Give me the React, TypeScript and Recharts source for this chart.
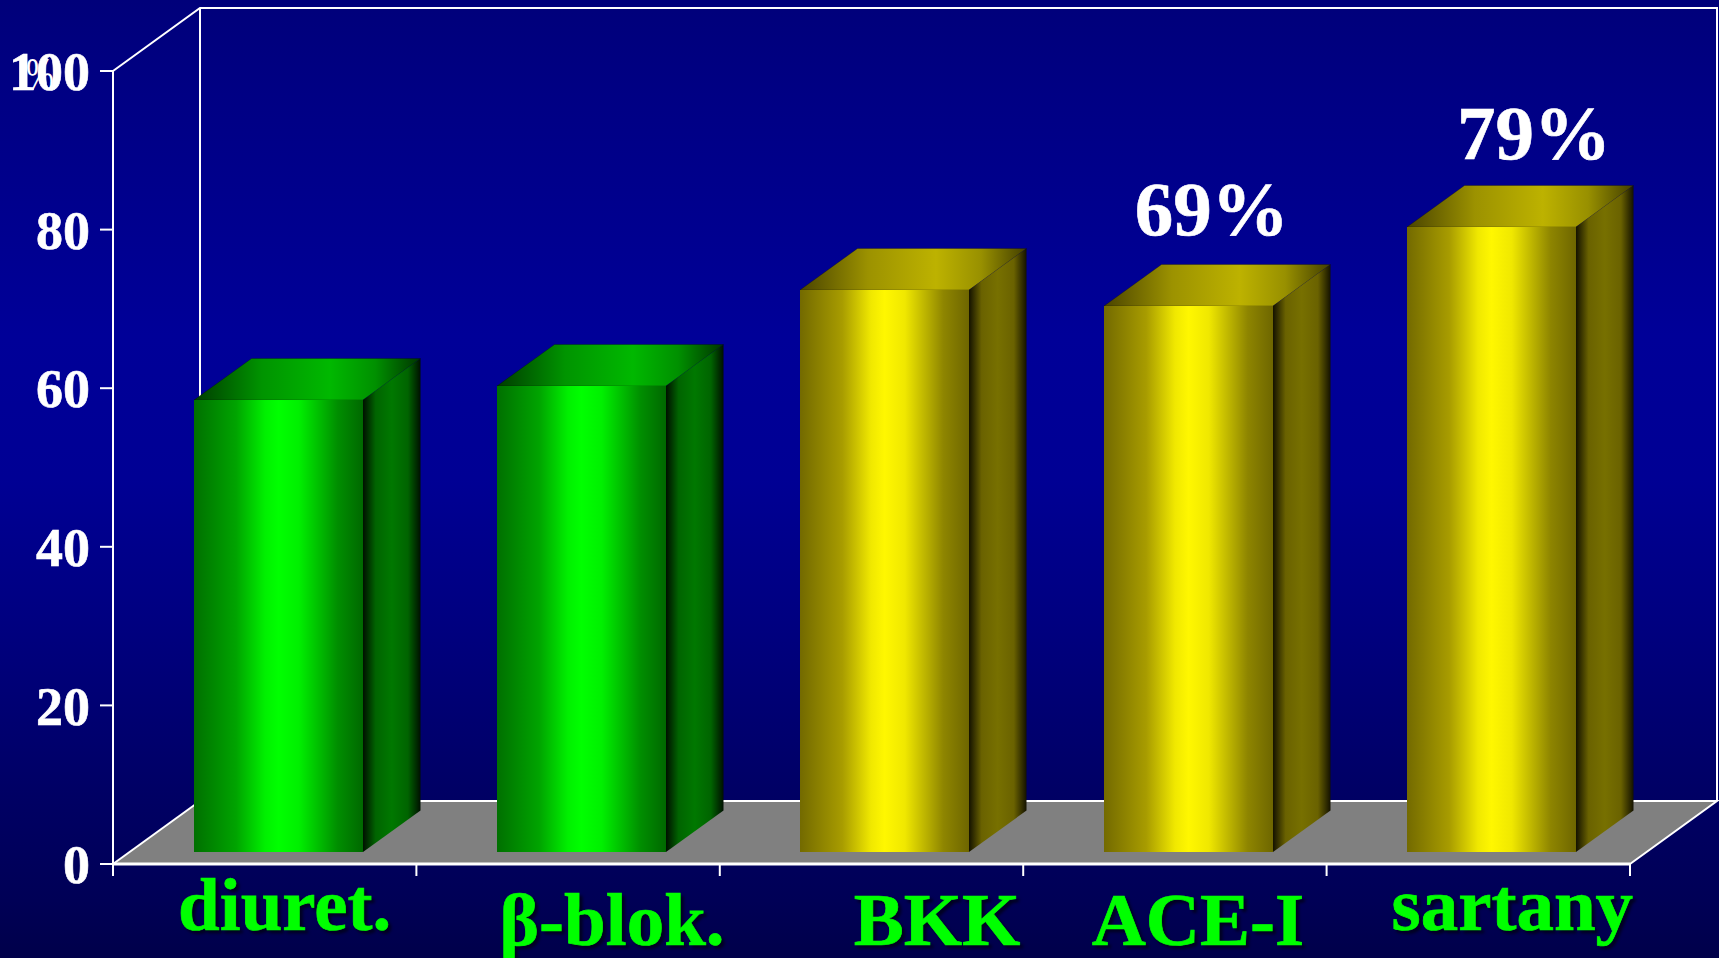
import React from 'react';
import { BarChart, Bar, XAxis, YAxis, Customized, LabelList } from 'recharts';

// Chart data
const categories = ['diuret.', 'β-blok.', 'BKK', 'ACE-I', 'sartany'];
const percentValues = [57.2, 59, 71, 69, 79];
const statedValues = [null, null, null, '69%', '79%'];
const barTones = ['green', 'green', 'yellow', 'yellow', 'yellow'];
const yTicks = [0, 20, 40, 60, 80, 100];

const rows = categories.map((name, i) => ({
  name,
  value: percentValues[i],
  stated: statedValues[i],
  tone: barTones[i],
}));

// Layout of the pseudo-3D box
const WIDTH = 1719;
const HEIGHT = 958;
const PLOT_LEFT = 113;
const PLOT_TOP = 71;
const PLOT_RIGHT = 1630;
const PLOT_BOTTOM = 864;
const WALL_DX = 87;
const WALL_DY = 63;
const BAND = (PLOT_RIGHT - PLOT_LEFT) / categories.length;

// Column placement on the floor and column depth
const COLUMN_WIDTH = 169;
const COLUMN_SHIFT_X = 13.5;
const COLUMN_TOP_LIFT = 10.5;
const COLUMN_BASE_LIFT = 12;
const COLUMN_DX = 57.5;
const COLUMN_DY = 41.5;

// Hand placement of the category captions and percentage captions
const captionShiftX = [20, 44, 65.5, 23, 34];
const captionBaseline = [66, 81, 81, 81, 66];
const statedShiftX = [0, 0, 0, 37, 56];
const statedLift = [0, 0, 0, 82, 78.5];

const SERIF = '"Liberation Serif", "Times New Roman", serif';

function ramp(id: string, stops: [number, string][]) {
  return (
    <linearGradient id={id} x1="0" y1="0" x2="1" y2="0">
      {stops.map(([o, c]) => (
        <stop key={o} offset={`${o}%`} stopColor={c} />
      ))}
    </linearGradient>
  );
}

// Gradients, walls, floor and the stray % glyph beside the top tick
function Scene() {
  const backLeft = PLOT_LEFT + WALL_DX;
  const backRight = PLOT_RIGHT + WALL_DX;
  const backTop = PLOT_TOP - WALL_DY;
  const backBottom = PLOT_BOTTOM - WALL_DY;
  const line = { stroke: '#ffffff', strokeWidth: 2, fill: 'none' };
  return (
    <g>
      <defs>
        {ramp('green-front', [[0, '#007000'], [25, '#00a400'], [42, '#00f000'], [50, '#00ff00'], [62, '#00f000'], [85, '#008e00'], [100, '#006800']])}
        {ramp('green-top', [[0, '#003c00'], [30, '#009400'], [60, '#00b800'], [80, '#009000'], [100, '#003400']])}
        {ramp('green-side', [[0, '#001000'], [22, '#006400'], [50, '#007800'], [78, '#006400'], [100, '#001000']])}
        {ramp('yellow-front', [[0, '#736a00'], [25, '#a89c00'], [42, '#f0e800'], [50, '#fff700'], [62, '#f0e800'], [85, '#8e8500'], [100, '#6e6600']])}
        {ramp('yellow-top', [[0, '#4a4400'], [30, '#9c9200'], [60, '#bdb200'], [80, '#989000'], [100, '#423e00']])}
        {ramp('yellow-side', [[0, '#141200'], [22, '#6a6200'], [50, '#777000'], [78, '#6a6200'], [100, '#141200']])}
      </defs>
      <polygon
        points={`${PLOT_LEFT},${PLOT_BOTTOM} ${backLeft},${backBottom} ${backRight},${backBottom} ${PLOT_RIGHT},${PLOT_BOTTOM}`}
        fill="#808080"
      />
      <polyline points={`${PLOT_LEFT},${PLOT_TOP} ${backLeft},${backTop} ${backRight},${backTop} ${backRight},${backBottom}`} {...line} />
      <polyline points={`${backLeft},${backTop} ${backLeft},${backBottom} ${backRight},${backBottom} ${PLOT_RIGHT},${PLOT_BOTTOM}`} {...line} />
      <line x1={PLOT_LEFT} y1={PLOT_BOTTOM} x2={backLeft} y2={backBottom} {...line} />
      <text x={26} y={90} fontFamily={SERIF} fontSize={46} textLength={28} lengthAdjust="spacingAndGlyphs" fill="#ffffff">%</text>
    </g>
  );
}

function Column(props: any) {
  const { x, y, width, height, payload } = props;
  // Whole-pixel edges keep the floor from showing through between faces
  const left = Math.round(x + COLUMN_SHIFT_X);
  const right = left + Math.round(width);
  const top = Math.round(y - COLUMN_TOP_LIFT);
  const bottom = Math.round(y + height - COLUMN_BASE_LIFT);
  const tone = payload.tone;
  return (
    <g>
      <polygon
        points={`${left},${top} ${left + COLUMN_DX},${top - COLUMN_DY} ${right + COLUMN_DX},${top - COLUMN_DY} ${right},${top}`}
        fill={`url(#${tone}-top)`}
        stroke="#000000"
        strokeOpacity={0.25}
        strokeWidth={1}
      />
      <polygon
        points={`${right},${top} ${right + COLUMN_DX},${top - COLUMN_DY} ${right + COLUMN_DX},${bottom - COLUMN_DY} ${right},${bottom}`}
        fill={`url(#${tone}-side)`}
      />
      <rect x={left} y={top} width={right - left} height={bottom - top} fill={`url(#${tone}-front)`} />
    </g>
  );
}

function StatedLabel(props: any) {
  const { x, y, width, value, index } = props;
  if (!value) return null;
  return (
    <text
      x={x + width / 2 + statedShiftX[index]}
      y={y - statedLift[index]}
      textAnchor="middle"
      fontFamily={SERIF}
      fontWeight="bold"
      fontSize={77}
      fill="#ffffff"
      stroke="#ffffff"
      strokeWidth={0.6}
    >
      {value}
    </text>
  );
}

// Category caption plus tick marks that sit on the band edges
function CategoryTick(props: any) {
  const { x, index, payload } = props;
  const edge = x - BAND / 2;
  const mark = (px: number) => (
    <line x1={px} y1={PLOT_BOTTOM} x2={px} y2={PLOT_BOTTOM + 12} stroke="#ffffff" strokeWidth={2} />
  );
  return (
    <g>
      {mark(edge)}
      {index === categories.length - 1 ? mark(edge + BAND) : null}
      <text
        x={x + captionShiftX[index]}
        y={PLOT_BOTTOM + captionBaseline[index]}
        textAnchor="middle"
        fontFamily={SERIF}
        fontWeight="bold"
        fontSize={75}
        fill="#00ff00"
        stroke="#00ff00"
        strokeWidth={0.7}
        style={{ filter: 'drop-shadow(3px 3px 1.5px #000020)' }}
      >
        {payload.value}
      </text>
    </g>
  );
}

export default function App() {
  return (
    <div
      style={{
        position: 'absolute',
        left: 0,
        top: 0,
        width: WIDTH,
        height: HEIGHT,
        overflow: 'hidden',
        background:
          'linear-gradient(to bottom, #00007a 0%, #000084 10%, #000098 35%, #000094 50%, #000080 65%, #000064 83%, #000056 94%, #00004a 100%)',
      }}
    >
      <BarChart
        width={WIDTH}
        height={HEIGHT}
        data={rows}
        margin={{ top: PLOT_TOP, left: 0, right: WIDTH - PLOT_RIGHT, bottom: 0 }}
        barCategoryGap={0}
      >
        <Customized component={Scene} />
        <XAxis
          dataKey="name"
          interval={0}
          height={HEIGHT - PLOT_BOTTOM}
          axisLine={{ stroke: '#ffffff', strokeWidth: 3 }}
          tickLine={false}
          tick={<CategoryTick />}
        />
        <YAxis
          domain={[0, 100]}
          ticks={yTicks}
          width={PLOT_LEFT}
          interval={0}
          axisLine={{ stroke: '#ffffff', strokeWidth: 2 }}
          tickLine={{ stroke: '#ffffff', strokeWidth: 2 }}
          tickSize={13}
          tickMargin={10}
          tick={{ fill: '#ffffff', stroke: '#ffffff', strokeWidth: 0.6, fontFamily: SERIF, fontWeight: 'bold', fontSize: 54 }}
        />
        <Bar dataKey="value" barSize={COLUMN_WIDTH} shape={<Column />} isAnimationActive={false}>
          <LabelList dataKey="stated" content={<StatedLabel />} />
        </Bar>
      </BarChart>
    </div>
  );
}
